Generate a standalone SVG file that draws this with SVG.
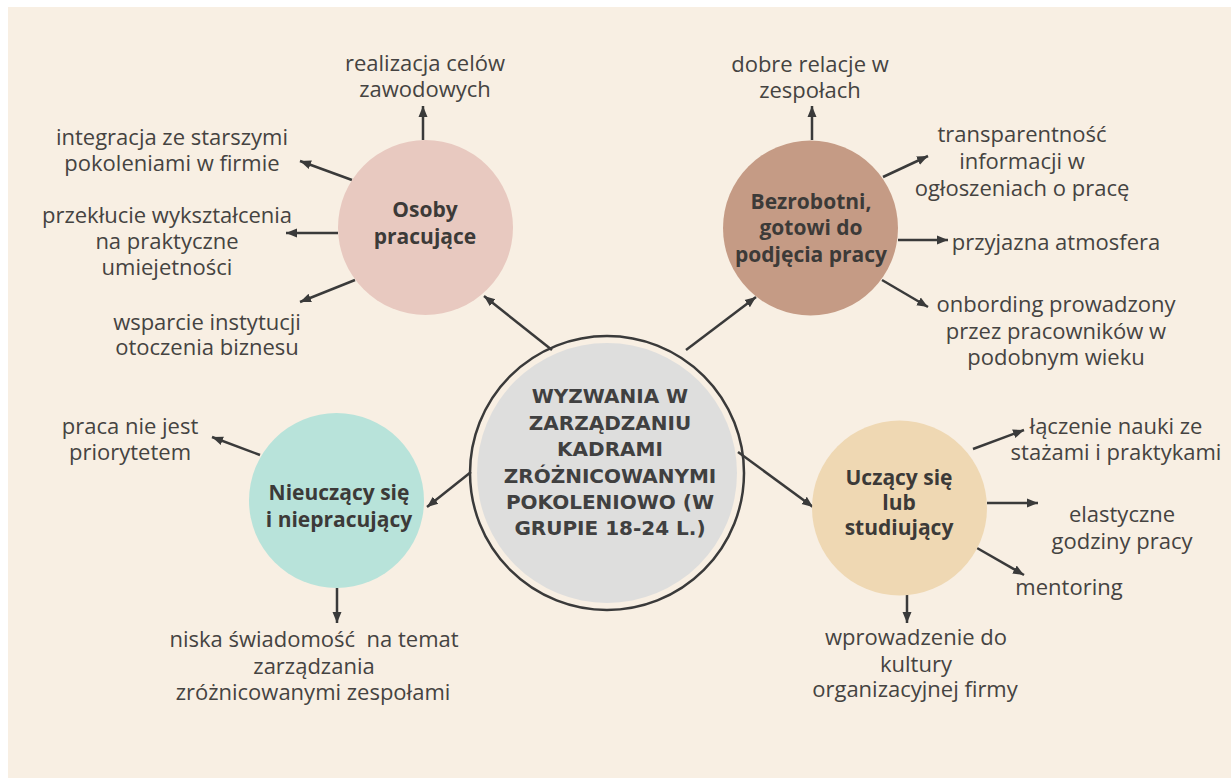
<svg xmlns="http://www.w3.org/2000/svg" width="1231" height="778" viewBox="0 0 1231 778">
<defs>
<marker id="ah" markerUnits="userSpaceOnUse" markerWidth="12" markerHeight="12" viewBox="0 0 12 12" refX="11" refY="6" orient="auto">
<path d="M0,1.5 L11,6 L0,10.5 Z" fill="#3a3a3a"/>
</marker>
<style>
.t{font-family:"Open Sans","Liberation Sans",sans-serif;font-size:22px;fill:#454341;text-anchor:middle}
.n{font-family:"Open Sans","Liberation Sans",sans-serif;font-size:21px;font-weight:700;fill:#3c3a38;text-anchor:middle}
.h{font-family:"DejaVu Sans","Liberation Sans",sans-serif;font-size:20px;font-weight:700;fill:#404040;text-anchor:middle}
.c{stroke:#3a3a3a;stroke-width:2.5;fill:none;marker-end:url(#ah)}
</style>
</defs>
<rect x="0" y="0" width="1231" height="778" fill="#ffffff"/>
<rect x="8" y="7" width="1223" height="771" fill="#f8efe3"/>

<g id="connectors">
<line class="c" x1="552" y1="350" x2="484" y2="296"/>
<line class="c" x1="686" y1="350" x2="756" y2="297"/>
<line class="c" x1="471" y1="472" x2="427" y2="507"/>
<line class="c" x1="738" y1="452" x2="813" y2="507"/>

<line class="c" x1="423" y1="140" x2="423" y2="106"/>
<line class="c" x1="352" y1="180" x2="300" y2="161"/>
<line class="c" x1="338" y1="233" x2="286" y2="233"/>
<line class="c" x1="355" y1="280" x2="300" y2="302"/>

<line class="c" x1="812" y1="140" x2="812" y2="106"/>
<line class="c" x1="883" y1="177" x2="928" y2="156"/>
<line class="c" x1="898" y1="240" x2="948" y2="240"/>
<line class="c" x1="882" y1="280" x2="928" y2="307"/>

<line class="c" x1="260" y1="455" x2="212" y2="437"/>
<line class="c" x1="337" y1="588" x2="337" y2="623"/>

<line class="c" x1="973" y1="449" x2="1024" y2="430"/>
<line class="c" x1="987" y1="503" x2="1038" y2="503"/>
<line class="c" x1="977" y1="548" x2="1024" y2="575"/>
<line class="c" x1="907" y1="592" x2="907" y2="623"/>
</g>

<g id="center">
<circle cx="607" cy="473" r="137" fill="none" stroke="#3a3a3a" stroke-width="2.5"/>
<circle cx="607" cy="473" r="130" fill="#dededd"/>
<text class="h" x="610" y="403">WYZWANIA W</text>
<text class="h" x="610" y="430">ZARZĄDZANIU</text>
<text class="h" x="610" y="456">KADRAMI</text>
<text class="h" x="610" y="483">ZRÓŻNICOWANYMI</text>
<text class="h" x="610" y="509">POKOLENIOWO (W</text>
<text class="h" x="610" y="535">GRUPIE 18-24 L.)</text>
</g>

<g id="osoby">
<circle cx="425.5" cy="227.5" r="87.5" fill="#e8c9c0"/>
<text class="n" x="425" y="217">Osoby</text>
<text class="n" x="425" y="244">pracujące</text>
<text class="t" x="425" y="71">realizacja celów</text>
<text class="t" x="425" y="97">zawodowych</text>
<text class="t" x="172" y="145">integracja ze starszymi</text>
<text class="t" x="172" y="171">pokoleniami w firmie</text>
<text class="t" x="167" y="223">przekłucie wykształcenia</text>
<text class="t" x="167" y="249">na praktyczne</text>
<text class="t" x="167" y="275">umiejetności</text>
<text class="t" x="207" y="330">wsparcie instytucji</text>
<text class="t" x="207" y="355">otoczenia biznesu</text>
</g>

<g id="bezrobotni">
<circle cx="810.5" cy="228" r="87.5" fill="#c59b85"/>
<text class="n" x="811" y="209">Bezrobotni,</text>
<text class="n" x="811" y="235">gotowi do</text>
<text class="n" x="811" y="262">podjęcia pracy</text>
<text class="t" x="810" y="72">dobre relacje w</text>
<text class="t" x="810" y="98">zespołach</text>
<text class="t" x="1022" y="142">transparentność</text>
<text class="t" x="1022" y="169">informacji w</text>
<text class="t" x="1022" y="196">ogłoszeniach o pracę</text>
<text class="t" x="1056" y="250">przyjazna atmosfera</text>
<text class="t" x="1056" y="312">onbording prowadzony</text>
<text class="t" x="1056" y="339">przez pracowników w</text>
<text class="t" x="1056" y="365">podobnym wieku</text>
</g>

<g id="nieuczacy">
<circle cx="336.5" cy="500.5" r="87.5" fill="#b8e3da"/>
<text class="n" x="339" y="500">Nieuczący się</text>
<text class="n" x="339" y="527">i niepracujący</text>
<text class="t" x="130" y="434">praca nie jest</text>
<text class="t" x="130" y="460">priorytetem</text>
<text class="t" x="314" y="647" style="white-space:pre">niska świadomość  na temat</text>
<text class="t" x="314" y="674">zarządzania</text>
<text class="t" x="313" y="700">zróżnicowanymi zespołami</text>
</g>

<g id="uczacy">
<circle cx="899.5" cy="508" r="87.5" fill="#efd8b3"/>
<text class="n" x="899" y="485">Uczący się</text>
<text class="n" x="899" y="510">lub</text>
<text class="n" x="899" y="535">studiujący</text>
<text class="t" x="1116" y="434">łączenie nauki ze</text>
<text class="t" x="1116" y="460">stażami i praktykami</text>
<text class="t" x="1122" y="522">elastyczne</text>
<text class="t" x="1122" y="549">godziny pracy</text>
<text class="t" x="1069" y="595">mentoring</text>
<text class="t" x="916" y="645">wprowadzenie do</text>
<text class="t" x="916" y="672">kultury</text>
<text class="t" x="915" y="697">organizacyjnej firmy</text>
</g>
</svg>
